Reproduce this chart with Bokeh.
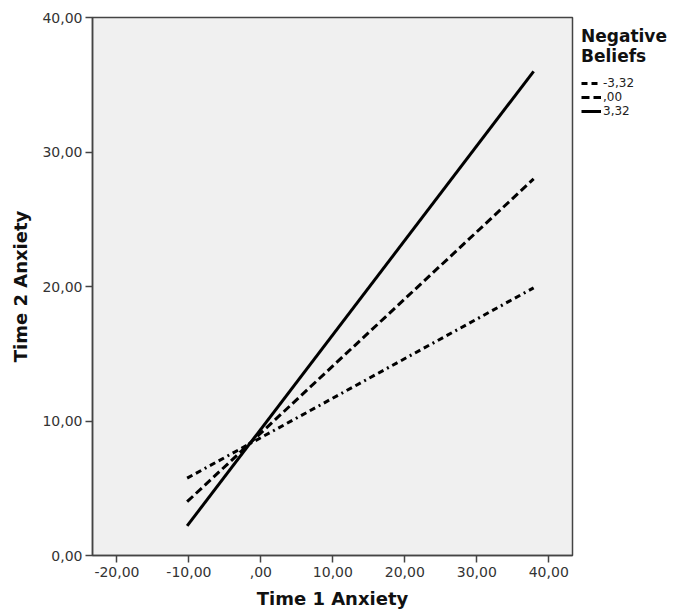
from bokeh.plotting import figure
from bokeh.models import Range1d, FixedTicker, Legend, LegendItem
from bokeh.embed import file_html
from bokeh.resources import INLINE

# ---- data ----
x_ends = [-10.25, 37.9]
y_low = [5.75, 19.9]    # Negative Beliefs = -3,32
y_mid = [4.0, 28.0]     # Negative Beliefs = ,00
y_high = [2.2, 36.0]    # Negative Beliefs = 3,32
series_labels = ["-3,32", ",00", "3,32"]
legend_title = "Negative\nBeliefs"
x_ticks = [-20, -10, 0, 10, 20, 30, 40]
x_tick_labels = ["-20,00", "-10,00", ",00", "10,00", "20,00", "30,00", "40,00"]
y_ticks = [0, 10, 20, 30, 40]
y_tick_labels = ["0,00", "10,00", "20,00", "30,00", "40,00"]

FONT = "DejaVu Sans"

p = figure(frame_width=480, frame_height=538, output_backend="svg",
           toolbar_location=None, x_range=Range1d(-23.4, 43.3),
           y_range=Range1d(0, 40), min_border_left=92, min_border_top=17,
           min_border_bottom=10, min_border_right=5)

p.background_fill_color = "#f0f0f0"
p.border_fill_color = "white"
p.outline_line_color = "#444444"
p.outline_line_width = 1.5
p.xgrid.visible = False
p.ygrid.visible = False

r_low = p.line(x_ends, y_low, line_color="black", line_width=3, line_dash="6 4 6 4 2 4")
r_mid = p.line(x_ends, y_mid, line_color="black", line_width=3, line_dash="8 4")
r_high = p.line(x_ends, y_high, line_color="black", line_width=3)

for ax, ticks, labels in ((p.xaxis[0], x_ticks, x_tick_labels), (p.yaxis[0], y_ticks, y_tick_labels)):
    ax.ticker = FixedTicker(ticks=ticks)
    ax.major_label_overrides = {t: l for t, l in zip(ticks, labels)}
    ax.minor_tick_line_color = None
    ax.major_tick_in = 0
    ax.major_tick_out = 7
    ax.axis_line_color = "#444444"
    ax.axis_line_width = 1.5
    ax.major_tick_line_color = "#444444"
    ax.major_tick_line_width = 1.5
    ax.major_label_text_font = FONT
    ax.major_label_text_font_size = "14px"
    ax.major_label_text_color = "#333333"
    ax.axis_label_text_font = FONT
    ax.axis_label_text_font_size = "18px"
    ax.axis_label_text_font_style = "bold"
    ax.axis_label_text_color = "#111111"

p.xaxis.axis_label = "Time 1 Anxiety"
p.yaxis.axis_label = "Time 2 Anxiety"
p.yaxis.major_label_standoff = 3
p.xaxis.major_label_standoff = 4
p.yaxis.axis_label_standoff = 8
p.xaxis.axis_label_standoff = 8

legend = Legend(items=[LegendItem(label=series_labels[0], renderers=[r_low]),
                       LegendItem(label=series_labels[1], renderers=[r_mid]),
                       LegendItem(label=series_labels[2], renderers=[r_high])],
                location="top_left", title=legend_title)
legend.title_text_font = FONT
legend.title_text_font_size = "17px"
legend.title_text_font_style = "bold"
legend.title_text_color = "#111111"
legend.title_standoff = 10
legend.label_text_font = FONT
legend.label_text_font_size = "12px"
legend.label_text_color = "#222222"
legend.border_line_color = None
legend.background_fill_alpha = 0
legend.glyph_width = 20
legend.glyph_height = 14
legend.label_height = 14
legend.spacing = 0
legend.padding = 2
legend.margin = 9
legend.label_standoff = 2
p.add_layout(legend, "right")

open("out.html", "w").write(file_html(p, INLINE))
